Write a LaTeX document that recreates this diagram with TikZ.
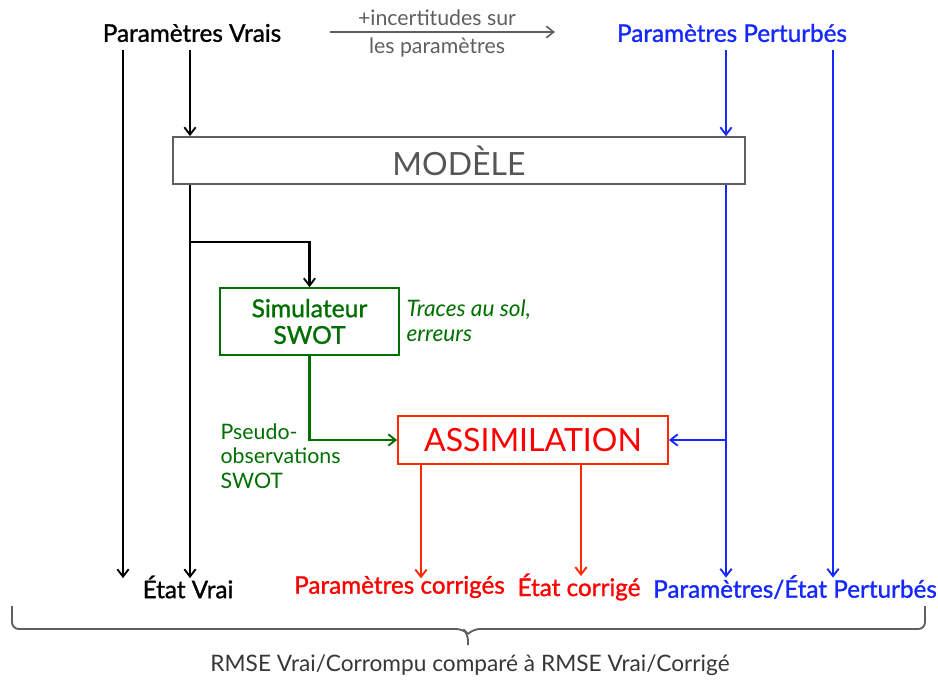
\documentclass[tikz,border=0pt]{standalone}
\usepackage{fontspec}
\setmainfont{Lato}
\newfontfamily\medfont[FakeBold=1.2]{Lato}
\usetikzlibrary{arrows.meta}
\definecolor{bluec}{RGB}{20,40,255}
\definecolor{redt}{RGB}{255,0,0}
\definecolor{redl}{RGB}{255,40,0}
\definecolor{greenc}{RGB}{0,110,0}
\definecolor{grayc}{RGB}{95,95,95}
\definecolor{grayt}{RGB}{85,85,85}
\definecolor{darkt}{RGB}{55,55,55}
\tikzset{
  conn/.style={line width=1.7pt,-{Straight Barb[length=5.5pt,width=8.5pt,line width=1.4pt]}},
  lbl/.style={font=\fontsize{18.2}{21}\selectfont\medfont, inner sep=2pt},
  small/.style={font=\fontsize{16}{20}\selectfont, inner sep=1pt, align=left},
}
\begin{document}
\begin{tikzpicture}[x=0.75pt,y=-0.75pt]
\useasboundingbox (0,0) rectangle (938,682);
% columns
\coordinate (c1) at (123,0);
\coordinate (c2) at (190,0);
\coordinate (c3) at (421,0);
\coordinate (c4) at (581,0);
\coordinate (c5) at (726,0);
\coordinate (c6) at (833,0);
% top labels
\node[lbl] (pv) at (192,33) {Paramètres Vrais};
\node[lbl,text=bluec] (pp) at (732,33) {Paramètres Perturbés};
\coordinate (u1) at (330,32);
\coordinate (u2) at (555,32);
\draw[grayc,line width=1.3pt,-{Straight Barb[length=5.5pt,width=8.5pt,line width=1.2pt]}] (u1) -- (u2);
\node[small,text=grayc,anchor=south] (inc1) at (437,27) {+incertitudes sur};
\node[small,text=grayc,anchor=north] (inc2) at (437,36) {les paramètres};
% boxes
\node[draw=grayc,line width=1.3pt,minimum width=429pt,minimum height=35.25pt,text=grayt,font=\fontsize{24}{28}\selectfont] (mod) at (459,160.5) {MODÈLE};
\node[draw=greenc,line width=1.3pt,minimum width=134.25pt,minimum height=50.25pt,text=greenc,align=center,font=\fontsize{18.5}{20}\selectfont\medfont] (sim) at (309.5,321.5) {Simulateur\\SWOT};
\node[draw=redl,line width=1.3pt,minimum width=202.5pt,minimum height=36pt,text=redt,font=\fontsize{24}{28}\selectfont] (assim) at (533,440) {ASSIMILATION};
\node[small,text=greenc,anchor=north west,font=\fontsize{17}{18.75}\selectfont\itshape] (traces) at (405,298) {Traces au sol,\\erreurs};
\node[small,text=greenc,anchor=north west,font=\fontsize{16}{18.4}\selectfont] (pseudo) at (219,422) {Pseudo-\\observations\\SWOT};
% bottom labels
\node[lbl] (ev) at (188,587) {État Vrai};
\node[lbl,text=redt] (pc) at (399.5,587) {Paramètres corrigés};
\node[lbl,text=redt] (ec) at (579,587) {État corrigé};
\node[lbl,text=bluec] (pe) at (795,587) {Paramètres/État Perturbés};
\node[small,text=darkt,font=\fontsize{17}{20}\selectfont] (rmse) at (470,665) {RMSE Vrai/Corrompu comparé à RMSE Vrai/Corrigé};
% black connectors
\draw[conn] ([yshift=-4pt]pv.south -| c1) -- ([yshift=-4pt]ev.north -| c1);
\draw[conn] ([yshift=-4pt]pv.south -| c2) -- (mod.north -| c2);
\draw[conn] (mod.south -| c2) -- ([yshift=-4pt]ev.north -| c2);
\coordinate (b1) at (190,242);
\draw[conn] (b1) -| (sim.north);
% green
\draw[conn,greenc] (sim.south) |- (assim.west);
% red
\draw[conn,redl] (assim.south -| c3) -- ([yshift=-4pt]pc.north -| c3);
\draw[conn,redl] (assim.south -| c4) -- ([yshift=-4pt]ec.north -| c4);
% blue
\draw[conn,bluec] ([yshift=-4pt]pp.south -| c5) -- (mod.north -| c5);
\draw[conn,bluec] (mod.south -| c5) -- ([yshift=-4pt]pe.north -| c5);
\coordinate (b2) at (726,440);
\draw[conn,bluec] (b2) -- (assim.east);
\draw[conn,bluec] ([yshift=-4pt]pp.south -| c6) -- ([yshift=-4pt]pe.north -| c6);
% brace
\draw[grayc,line width=1.4pt,rounded corners=5pt] (12,606) -- (12,629) -- (463,629) -- (468,634) -- (468,645);
\draw[grayc,line width=1.4pt,rounded corners=5pt] (925,606) -- (925,629) -- (473,629) -- (468,634);
\end{tikzpicture}
\end{document}
